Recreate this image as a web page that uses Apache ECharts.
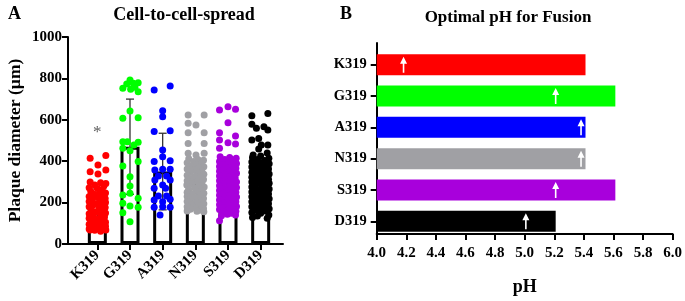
<!DOCTYPE html>
<html><head><meta charset="utf-8">
<script src="https://cdn.jsdelivr.net/npm/echarts@6/dist/echarts.min.js"></script>
<style>html,body{margin:0;padding:0;background:#fff}#c{width:685px;height:301px}</style>
</head><body><div id="c"></div>
<script>
const categories = ['K319','G319','A319','N319','S319','D319'];
const groupColors = ['#ff0000','#00ff00','#0000ff','#a0a0a4','#a800dc','#000000'];
const yTicksA = [0,200,400,600,800,1000];
const spreadMeans = [200,470,350,325,300,300];
const spreadSD = [70,230,185,75,85,90];
const sigLabels = ['*','','','','',''];
const sigValues = [540,null,null,null,null,null];
// [horizontal jitter (category units), plaque diameter]
const dotsK = [[-0.22,414],[0.26,427],[0.02,382],[-0.22,349],[0.26,357],[0.02,338],
[-0.22,300],[0.1,296],[0.26,292],[-0.08,285],[0.2,280],[-0.25,272],[0.0,268],[0.15,262],
[-0.2,255],[0.08,250],[0.25,246],[-0.1,240],[0.18,235],[-0.25,230],[0.02,226],[0.24,220],
[-0.15,215],[0.1,210],[-0.25,205],[0.25,200],[0.0,196],[-0.12,190],[0.15,186],[-0.25,180],[0.24,176],
[0.05,170],[-0.18,165],[0.2,160],[-0.05,155],[0.25,150],[-0.25,146],[0.1,140],[-0.12,135],[0.22,130],
[-0.25,125],[0.02,120],[0.18,115],[-0.15,110],[0.25,105],[-0.02,100],[-0.25,95],[0.12,92],[0.25,86],
[-0.12,82],[0.05,78],[-0.25,72],[0.22,70],[-0.08,66],[0.1,62],[-0.22,68],[0.26,68]];
const dotsG = [[-0.22,752],[0,792],[-0.1,773],[0.1,776],[0.25,779],[0.15,757],[0.25,736],[0.02,747],
[0,643],[-0.22,607],[0.25,610],[-0.22,494],[-0.08,494],[0.12,478],[0.25,491],[-0.22,462],[0,451],
[-0.22,377],[0.25,398],[0,325],[0,280],[-0.22,237],[0,245],[0.25,221],[-0.22,197],[0,184],[0.25,177],[-0.22,151],[0,108]];
const dotsA = [[-0.26,744],[0.23,763],[0,644],[0,615],[-0.26,543],[0.23,547],[0,454],[0,422],[-0.26,398],[0.23,402],
[-0.24,357],[0,361],[0.23,361],[-0.13,329],[0.12,329],[-0.24,309],[0.23,309],[0,285],[-0.26,269],[0.09,269],
[-0.13,232],[0.12,232],[-0.26,213],[0,204],[0.23,216],[-0.26,177],[0.23,177],[0,180],[-0.08,140]];
const dotsN = [[-0.22,623],[0.27,623],[-0.22,583],[0.02,575],[-0.22,538],[0.27,538],[-0.22,486],[0.27,486],[-0.22,438],[0.02,430],[0.27,438],
[-0.2,412],[0.08,408],[0.25,404],[-0.05,398],[-0.25,392],[0.18,388],[0.0,383],[-0.15,378],[0.26,373],[0.1,368],
[-0.25,362],[-0.02,358],[0.2,352],[-0.15,347],[0.08,342],[0.26,337],[-0.25,332],[0.0,327],[0.17,322],
[-0.12,317],[0.25,312],[-0.25,306],[0.05,302],[0.2,296],[-0.1,291],[-0.26,285],[0.12,281],[0.27,275],
[-0.02,270],[-0.2,265],[0.18,260],[0.04,255],[-0.25,250],[0.26,245],[-0.1,240],[0.12,235],[-0.25,230],
[0.0,225],[0.25,220],[-0.15,215],[0.15,210],[-0.25,205],[0.02,200],[0.26,195],[-0.12,190],[0.12,185],
[-0.25,180],[0.0,175],[0.25,172],[-0.15,168],[0.15,164],[-0.25,160],[0.05,158],[0.26,156]];
const dotsS = [[-0.26,647],[0.0,663],[0.23,651],[0.0,586],[-0.26,538],[0.23,522],[-0.26,502],[0.0,489],[0.23,483],[-0.26,462],
[-0.24,422],[0.05,418],[0.25,414],[-0.1,408],[0.15,404],[-0.26,398],[0.02,394],[0.26,389],[-0.15,384],[0.12,380],
[-0.26,375],[0.0,370],[0.24,366],[-0.12,361],[0.14,356],[-0.26,351],[0.03,347],[0.26,342],[-0.14,337],[0.12,333],
[-0.26,328],[-0.02,324],[0.22,319],[-0.12,314],[0.1,310],[-0.26,305],[0.26,300],[0.0,296],[-0.16,291],[0.15,287],
[-0.26,282],[0.04,278],[0.26,273],[-0.1,268],[0.12,264],[-0.26,259],[-0.02,255],[0.24,250],[-0.15,245],[0.12,241],
[-0.26,236],[0.02,232],[0.26,227],[-0.12,222],[0.14,218],[-0.26,213],[0.0,209],[0.24,204],[-0.14,199],[0.1,195],
[-0.26,190],[0.02,186],[0.26,181],[-0.12,176],[0.14,172],[-0.26,167],[0.0,163],[0.24,158],[-0.14,153],[0.1,149],
[-0.02,144],[0.23,140],[-0.2,137],[-0.26,112]];
const dotsD = [[-0.27,620],[0.22,631],[-0.27,578],[-0.13,559],[0.1,567],[0.22,551],[-0.06,510],[-0.27,502],[0.02,478],[0.22,478],[-0.06,459],[-0.23,430],[0.2,440],
[0.0,425],[-0.25,418],[0.25,414],[-0.1,408],[0.12,403],[-0.27,396],[0.02,392],[0.26,388],[-0.15,382],[0.15,377],
[-0.27,372],[0.0,368],[0.24,362],[-0.12,357],[0.12,352],[-0.27,347],[0.02,343],[0.26,338],[-0.14,333],[0.14,328],
[-0.27,323],[0.0,318],[0.24,313],[-0.12,308],[0.1,304],[-0.27,299],[0.26,294],[0.02,290],[-0.15,285],[0.15,280],
[-0.27,275],[0.04,270],[0.26,266],[-0.1,261],[0.12,256],[-0.27,251],[-0.02,247],[0.24,242],[-0.14,237],[0.12,232],
[-0.27,228],[0.02,223],[0.26,218],[-0.12,213],[0.14,208],[-0.27,204],[0.0,199],[0.24,194],[-0.14,189],[0.1,185],
[-0.27,180],[0.02,175],[0.26,170],[-0.12,165],[0.14,160],[-0.27,152],[0.0,148],[0.25,140],[-0.1,135],[-0.25,128],[0.2,125]];
const phValues = [5.4,5.6,5.4,5.4,5.6,5.2];
const arrowPH = [4.18,5.2,5.37,5.37,5.2,5.0];
const xTicksB = ['4.0','4.2','4.4','4.6','4.8','5.0','5.2','5.4','5.6','5.8','6.0'];

const FONT = "'Liberation Serif','Times New Roman',serif";
const dotGroups = [dotsK,dotsG,dotsA,dotsN,dotsS,dotsD];
const bMin = +xTicksB[0], bMax = +xTicksB[xTicksB.length-1], bInt = +(xTicksB[1]-xTicksB[0]).toFixed(2);
const txt = (size) => ({fontFamily: FONT, fontWeight: 'bold', fontSize: size, color: '#000'});
const blackLine = {lineStyle: {color: '#000', width: 2}};

const chart = echarts.init(document.getElementById('c'), null, {renderer: 'canvas'});
const series = [];
series.push({type: 'bar', xAxisIndex: 0, yAxisIndex: 0, data: spreadMeans, barWidth: 19,
  itemStyle: {color: '#fff', borderColor: '#000', borderWidth: 3}, z: 1, silent: true});
series.push({type: 'custom', xAxisIndex: 0, yAxisIndex: 0, z: 2,
  data: spreadMeans.map((m, i) => [i, m - spreadSD[i], m + spreadSD[i]]),
  renderItem: (params, api) => {
    const lo = api.coord([api.value(0), api.value(1)]);
    const hi = api.coord([api.value(0), api.value(2)]);
    const w = 4, st = {stroke: '#333', lineWidth: 1.3};
    return {type: 'group', children: [
      {type: 'line', shape: {x1: hi[0], y1: hi[1], x2: lo[0], y2: lo[1]}, style: st},
      {type: 'line', shape: {x1: hi[0]-w, y1: hi[1], x2: hi[0]+w, y2: hi[1]}, style: st},
      {type: 'line', shape: {x1: lo[0]-w, y1: lo[1], x2: lo[0]+w, y2: lo[1]}, style: st}
    ]};
  }});
dotGroups.forEach((g, i) => {
  series.push({type: 'scatter', xAxisIndex: 1, yAxisIndex: 0, symbolSize: 7, z: 3,
    itemStyle: {color: groupColors[i], opacity: 1},
    data: g.map(d => [i + d[0], d[1]])});
});
series.push({type: 'scatter', xAxisIndex: 0, yAxisIndex: 0, symbolSize: 1, z: 4,
  itemStyle: {color: 'rgba(0,0,0,0)'},
  data: categories.map((c, i) => [c, sigValues[i]]).filter((d, i) => sigValues[i] != null && sigLabels[i]),
  label: {show: true, position: 'inside', formatter: (p) => sigLabels[p.dataIndex],
    fontFamily: FONT, fontSize: 17, color: '#333'}});
series.push({type: 'bar', xAxisIndex: 3, yAxisIndex: 2, barWidth: 21, z: 2,
  data: phValues.map((v, i) => ({value: v, itemStyle: {color: groupColors[i]}}))});
series.push({type: 'scatter', xAxisIndex: 3, yAxisIndex: 2, z: 5,
  symbol: 'path://M3.5,0 L7,7 L4.3,7 L4.3,16 L2.7,16 L2.7,7 L0,7 Z', symbolSize: [7, 16],
  itemStyle: {color: '#fff', opacity: 1},
  data: arrowPH.map((v, i) => [v, categories[i]])});

chart.setOption({
  animation: false,
  backgroundColor: '#fff',
  title: [
    {text: 'A', left: 3, top: 0, textStyle: txt(18)},
    {text: 'Cell-to-cell-spread', left: 179, top: 1, textAlign: 'center', textStyle: txt(18)},
    {text: 'B', left: 335, top: 0, textStyle: txt(18)},
    {text: 'Optimal pH for Fusion', left: 503, top: 4, textAlign: 'center', textStyle: txt(17)}
  ],
  grid: [
    {left: 81, top: 37, width: 196, height: 207},
    {left: 68, top: 37, width: 215, height: 207},
    {left: 376.7, top: 49, width: 298.3, height: 188},
    {left: 376.7, top: 43, width: 298.3, height: 199}
  ],
  xAxis: [
    {type: 'category', gridIndex: 0, data: categories, axisLine: {show: false},
      axisTick: {show: true, alignWithLabel: true, length: 6, lineStyle: {color: '#000', width: 2}},
      axisLabel: Object.assign(txt(15), {rotate: 45, margin: 9, interval: 0})},
    {type: 'value', gridIndex: 0, min: -0.5, max: 5.5, show: false},
    {type: 'value', gridIndex: 1, axisLine: Object.assign({show: true}, blackLine),
      axisTick: {show: false}, axisLabel: {show: false}, splitLine: {show: false}},
    {type: 'value', gridIndex: 2, min: bMin, max: bMax, show: false},
    {type: 'value', gridIndex: 3, min: bMin, max: bMax, interval: bInt,
      axisLine: Object.assign({show: true}, blackLine),
      axisTick: {show: true, length: 6, lineStyle: {color: '#000', width: 2}},
      axisLabel: Object.assign(txt(15), {margin: 12, formatter: (v) => xTicksB[Math.round((v - bMin) / bInt)]}),
      splitLine: {show: false},
      name: 'pH', nameLocation: 'middle', nameGap: 44, nameTextStyle: txt(18)}
  ],
  yAxis: [
    {type: 'value', gridIndex: 0, min: yTicksA[0], max: yTicksA[yTicksA.length-1], show: false},
    {type: 'value', gridIndex: 1, min: yTicksA[0], max: yTicksA[yTicksA.length-1], interval: yTicksA[1]-yTicksA[0],
      axisLine: Object.assign({show: true}, blackLine),
      axisTick: {show: true, length: 6, lineStyle: {color: '#000', width: 2}},
      axisLabel: Object.assign(txt(15), {margin: 6, formatter: (v) => String(v)}),
      splitLine: {show: false},
      name: 'Plaque diameter (µm)', nameLocation: 'middle', nameGap: 44, nameTextStyle: txt(17.5)},
    {type: 'category', gridIndex: 2, data: categories, inverse: true, axisLine: {show: false},
      axisTick: {show: true, alignWithLabel: true, length: 6, lineStyle: {color: '#000', width: 2}},
      axisLabel: Object.assign(txt(14.5), {margin: 10})},
    {type: 'value', gridIndex: 3, axisLine: Object.assign({show: true}, blackLine),
      axisTick: {show: false}, axisLabel: {show: false}, splitLine: {show: false}}
  ],
  series: series
});
</script></body></html>
